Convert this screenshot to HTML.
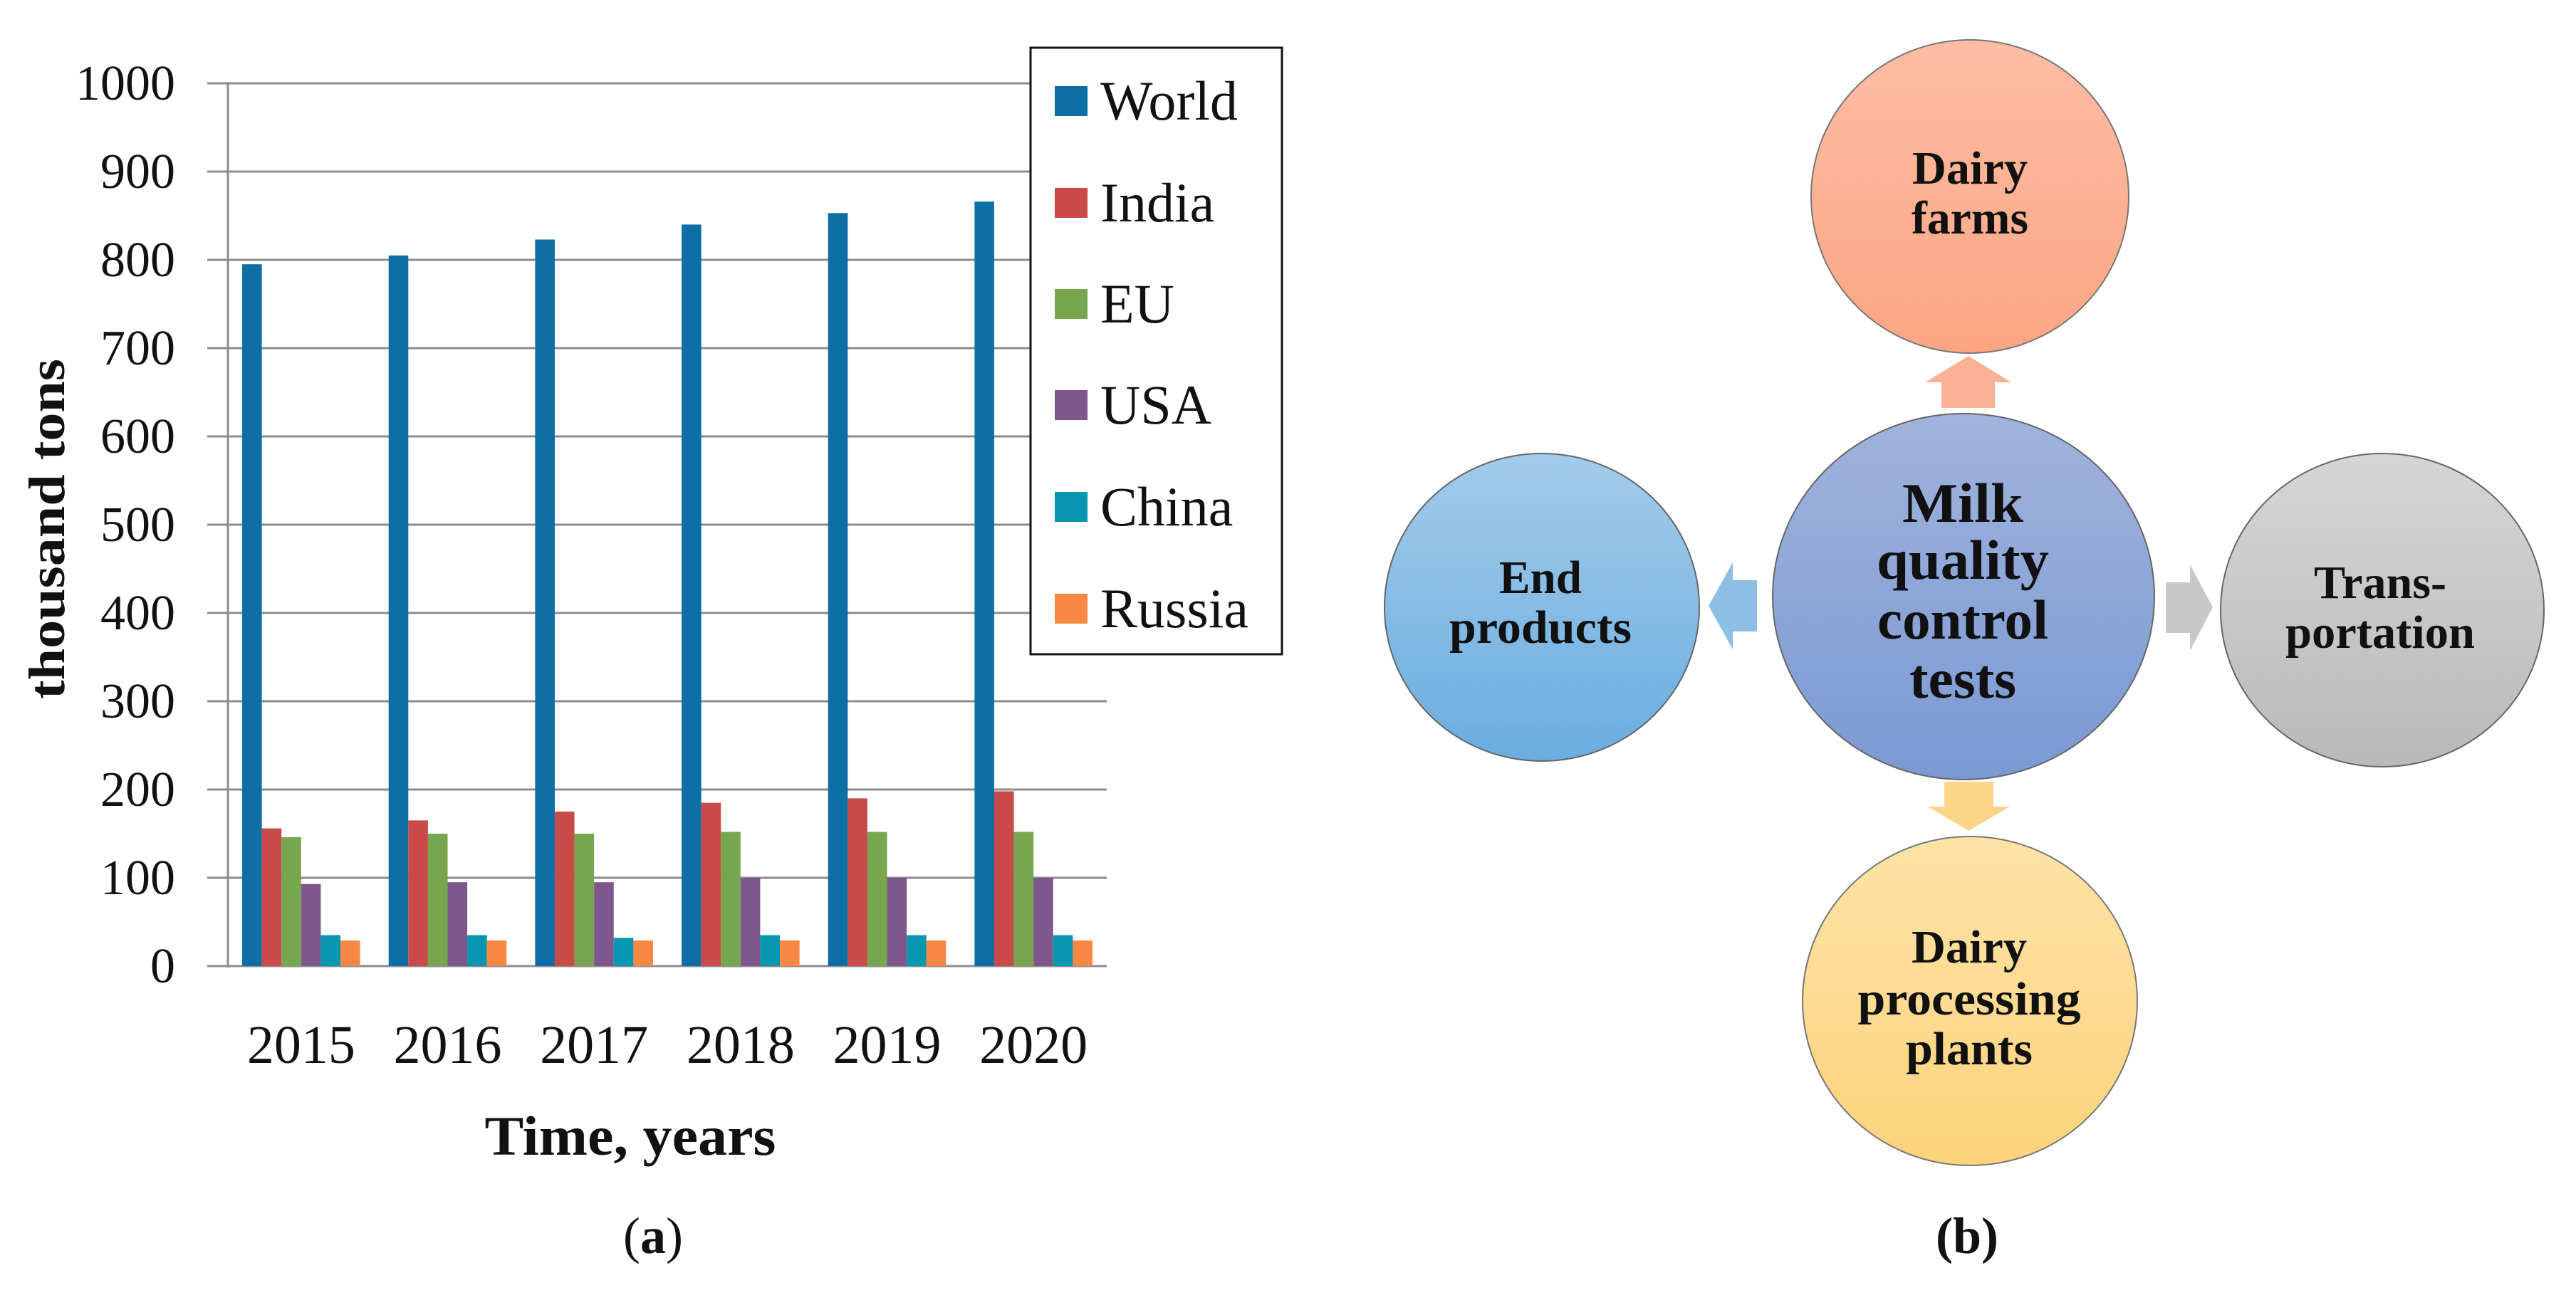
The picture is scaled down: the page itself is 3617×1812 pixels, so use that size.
<!DOCTYPE html>
<html><head><meta charset="utf-8"><style>
html,body{margin:0;padding:0;background:#fff;}
svg{display:block;}
text{font-family:"Liberation Serif",serif;fill:#111;}
</style></head><body>
<svg id="fig" width="3617" height="1812" viewBox="0 0 3617 1812">
<defs>
<linearGradient id="gTop" x1="0" y1="0" x2="0" y2="1"><stop offset="0" stop-color="#fdbda4"/><stop offset="1" stop-color="#fca583"/></linearGradient>
<linearGradient id="gMid" x1="0" y1="0" x2="0" y2="1"><stop offset="0" stop-color="#a1b3dd"/><stop offset="1" stop-color="#7a99d2"/></linearGradient>
<linearGradient id="gLeft" x1="0" y1="0" x2="0" y2="1"><stop offset="0" stop-color="#a3cbea"/><stop offset="1" stop-color="#6aade0"/></linearGradient>
<linearGradient id="gRight" x1="0" y1="0" x2="0" y2="1"><stop offset="0" stop-color="#d6d6d6"/><stop offset="1" stop-color="#b9b9b9"/></linearGradient>
<linearGradient id="gBot" x1="0" y1="0" x2="0" y2="1"><stop offset="0" stop-color="#fde3a8"/><stop offset="1" stop-color="#fdd37b"/></linearGradient>
</defs>
<g id="chart"></g>

<g font-weight="bold">
  <polygon fill="#fdb194" points="2726,573 2726,537 2703,537 2764,500 2824,537 2801,537 2801,573"/>
  <polygon fill="#fdd589" points="2730,1098 2730,1133 2707,1133 2764,1167 2822,1133 2799,1133 2799,1098"/>
  <polygon fill="#8dbfe6" points="2467,815 2433,815 2433,790 2399,851 2433,912 2433,887 2467,887"/>
  <polygon fill="#c8c8c8" points="3041,818 3075,818 3075,793 3107,853 3075,914 3075,889 3041,889"/>

  <ellipse cx="2766" cy="276" rx="223" ry="220" fill="url(#gTop)" stroke="#777" stroke-width="2"/>
  <text x="2766" y="258" font-size="66" text-anchor="middle" font-weight="bold" textLength="162" lengthAdjust="spacingAndGlyphs">Dairy</text>
  <text x="2766" y="328" font-size="66" text-anchor="middle" font-weight="bold" textLength="164" lengthAdjust="spacingAndGlyphs">farms</text>

  <ellipse cx="2757" cy="838" rx="268" ry="257" fill="url(#gMid)" stroke="#666" stroke-width="2"/>
  <text x="2756" y="733" font-size="78" text-anchor="middle" font-weight="bold" textLength="170" lengthAdjust="spacingAndGlyphs">Milk</text>
  <text x="2756" y="813" font-size="78" text-anchor="middle" font-weight="bold" textLength="242" lengthAdjust="spacingAndGlyphs">quality</text>
  <text x="2756" y="897" font-size="78" text-anchor="middle" font-weight="bold" textLength="240" lengthAdjust="spacingAndGlyphs">control</text>
  <text x="2756" y="980" font-size="78" text-anchor="middle" font-weight="bold" textLength="150" lengthAdjust="spacingAndGlyphs">tests</text>

  <ellipse cx="2165" cy="853" rx="221" ry="216" fill="url(#gLeft)" stroke="#666" stroke-width="2"/>
  <text x="2163" y="833" font-size="66" text-anchor="middle" font-weight="bold" textLength="116" lengthAdjust="spacingAndGlyphs">End</text>
  <text x="2163" y="903" font-size="66" text-anchor="middle" font-weight="bold" textLength="256" lengthAdjust="spacingAndGlyphs">products</text>

  <ellipse cx="3345" cy="857" rx="227" ry="220" fill="url(#gRight)" stroke="#666" stroke-width="2"/>
  <text x="3342" y="840" font-size="66" text-anchor="middle" font-weight="bold" textLength="186" lengthAdjust="spacingAndGlyphs">Trans-</text>
  <text x="3342" y="910" font-size="66" text-anchor="middle" font-weight="bold" textLength="266" lengthAdjust="spacingAndGlyphs">portation</text>

  <ellipse cx="2766" cy="1406" rx="235" ry="231" fill="url(#gBot)" stroke="#777" stroke-width="2"/>
  <text x="2765" y="1352" font-size="66" text-anchor="middle" font-weight="bold" textLength="162" lengthAdjust="spacingAndGlyphs">Dairy</text>
  <text x="2765" y="1425" font-size="66" text-anchor="middle" font-weight="bold" textLength="313" lengthAdjust="spacingAndGlyphs">processing</text>
  <text x="2765" y="1495" font-size="66" text-anchor="middle" font-weight="bold" textLength="178" lengthAdjust="spacingAndGlyphs">plants</text>

  <text x="2762" y="1760" font-size="72" text-anchor="middle">(<tspan font-weight="bold">b</tspan>)</text>
</g>
<text x="917" y="1760" font-size="72" text-anchor="middle">(<tspan font-weight="bold">a</tspan>)</text>
</svg>
<script>
const categories = ["2015","2016","2017","2018","2019","2020"];
const seriesNames = ["World","India","EU","USA","China","Russia"];
const worldValues = [795,805,823,840,853,866];
const indiaValues = [156,165,175,185,190,198];
const euValues = [146,150,150,152,152,152];
const usaValues = [93,95,95,100,100,100];
const chinaValues = [35,35,32,35,35,35];
const russiaValues = [29,29,29,29,29,29];
const yTicks = [0,100,200,300,400,500,600,700,800,900,1000];

const seriesValues = [worldValues, indiaValues, euValues, usaValues, chinaValues, russiaValues];
const colors = ["#0e6ea6","#c84b48","#77a64e","#7e588c","#0696af","#f88944"];
const NS = "http://www.w3.org/2000/svg";
const g = document.getElementById("chart");
const x0 = 320, x1 = 1554, yBase = 1357, yTop = 117, yMax = 1000;
const band = (x1 - x0) / categories.length;
const barW = 27.6, pad = (band - barW * 6) / 2;
function yScale(v){ return yBase - (v / yMax) * (yBase - yTop); }
function xBand(i){ return x0 + i * band; }
function mk(tag, attrs){ const e = document.createElementNS(NS, tag); for (const k in attrs) e.setAttribute(k, attrs[k]); return e; }

yTicks.forEach(t => {
  const y = yScale(t);
  const l = mk("line", {x1: 291, x2: x1, y1: y, y2: y, stroke: "#8c8c8c", "stroke-width": 3});
  
  
  g.appendChild(l);
  const tx = mk("text", {x: 246, y: y + 23, "font-size": 70, "text-anchor": "end"});
  
  
  tx.textContent = t;
  g.appendChild(tx);
});
const ax = mk("line", {x1: x0, x2: x0, y1: yTop, y2: yBase + 2, stroke: "#8c8c8c", "stroke-width": 3});


g.appendChild(ax);

categories.forEach((c, i) => {
  seriesValues.forEach((vals, s) => {
    const y = yScale(vals[i]);
    const r = mk("rect", {x: xBand(i) + pad + s * barW, y: y, width: barW, height: yBase - y, fill: colors[s]});
    
    
    g.appendChild(r);
  });
  const t = mk("text", {x: xBand(i) + band / 2, y: 1493, "font-size": 76, "text-anchor": "middle"});
  
  
  t.textContent = c;
  g.appendChild(t);
});

const xt = mk("text", {x: 885, y: 1622, "font-size": 78, "font-weight": "bold", "text-anchor": "middle", textLength: 409, lengthAdjust: "spacingAndGlyphs"});


xt.textContent = "Time, years";
g.appendChild(xt);
const yt = mk("text", {x: 0, y: 0, "font-size": 72, "font-weight": "bold", "text-anchor": "middle", textLength: 478, lengthAdjust: "spacingAndGlyphs", transform: "translate(90,743) rotate(-90)"});


yt.textContent = "thousand tons";
g.appendChild(yt);

const lg = mk("g", {});


g.appendChild(lg);
const box = mk("rect", {x: 1447, y: 67, width: 353, height: 852, fill: "#fff", stroke: "#111", "stroke-width": 3});


lg.appendChild(box);
const legY = [142, 285, 427, 569, 712, 855];
seriesNames.forEach((n, s) => {
  const sw = mk("rect", {x: 1481, y: legY[s] - 21, width: 46, height: 42, fill: colors[s]});
  
  
  lg.appendChild(sw);
  const t = mk("text", {x: 1545, y: legY[s] + 26, "font-size": 78});
  
  
  t.textContent = n;
  lg.appendChild(t);
});
</script>
</body></html>
